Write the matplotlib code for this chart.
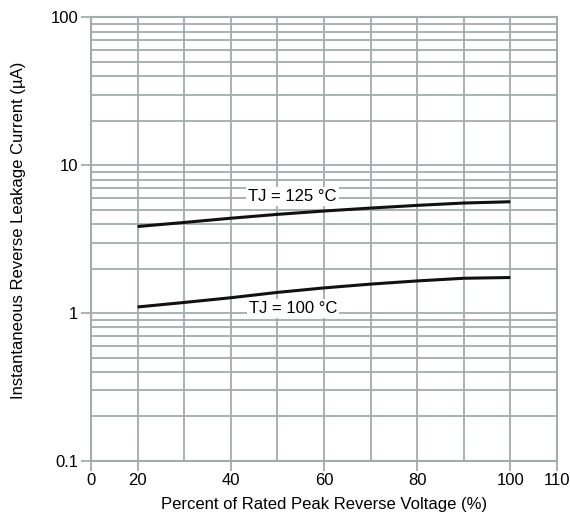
import matplotlib
matplotlib.use("Agg")
import matplotlib.pyplot as plt
from matplotlib.ticker import FixedLocator, NullFormatter
import numpy as np

plt.rcParams['font.family'] = ['Liberation Sans Narrow', 'Liberation Sans', 'DejaVu Sans']

# Data (x in % of rated peak reverse voltage, y in µA)
x_vals = [20, 30, 40, 50, 60, 70, 80, 90, 100]
i_125 = [3.85, 4.10, 4.38, 4.65, 4.90, 5.13, 5.35, 5.55, 5.66]
i_100 = [1.10, 1.18, 1.27, 1.38, 1.48, 1.57, 1.65, 1.72, 1.74]
label_125 = "TJ = 125 °C"
label_100 = "TJ = 100 °C"
# axis starts at the "0" tick placed one grid step before 20 (broken axis)
xtick_pos = [10, 20, 40, 60, 80, 100, 110]
xtick_labels = ["0", "20", "40", "60", "80", "100", "110"]
ytick_pos = [0.1, 1, 10, 100]
ytick_labels = ["0.1", "1", "10", "100"]

grid_c = "#a3abab"

fig = plt.figure(figsize=(5.7, 5.2), dpi=100)
ax = fig.add_axes([0.1596, 0.1135, 0.8174, 0.8532])
ax.set_yscale('log')
ax.set_xlim(10, 110)
ax.set_ylim(0.1, 100)

# grid
ax.xaxis.set_minor_locator(FixedLocator(np.arange(10, 111, 10)))
ax.xaxis.set_minor_formatter(NullFormatter())
ax.yaxis.set_minor_locator(FixedLocator([m * 10.0**e for e in (-1, 0, 1) for m in range(2, 10)]))
ax.yaxis.set_minor_formatter(NullFormatter())
ax.grid(True, which='both', color=grid_c, linewidth=1.3)
ax.tick_params(which='minor', length=0)
ax.set_axisbelow(True)

ax.set_xticks(xtick_pos)
ax.set_xticklabels(xtick_labels)
ax.set_yticks(ytick_pos)
ax.set_yticklabels(ytick_labels)
ax.tick_params(which='major', length=7, width=1.3, color=grid_c, labelsize=12, pad=2)

for s in ax.spines.values():
    s.set_color(grid_c)
    s.set_linewidth(1.5)

ax.plot(x_vals, i_125, color='#111111', linewidth=2.2, solid_capstyle='butt')
ax.plot(x_vals, i_100, color='#111111', linewidth=2.2, solid_capstyle='butt')

bb = dict(facecolor='white', edgecolor='none', pad=1.5)
ax.text(53.3, 6.1, label_125, ha='center', va='center', fontsize=12, bbox=bb)
ax.text(53.3, 1.07, label_100, ha='center', va='center', fontsize=12, bbox=bb)

ax.set_xlabel("Percent of Rated Peak Reverse Voltage (%)", fontsize=12, labelpad=6)
ax.set_ylabel("Instantaneous Reverse Leakage Current (µA)", fontsize=12)
ax.yaxis.set_label_coords(-0.14, 0.52)

fig.savefig("out.png", dpi=100)
